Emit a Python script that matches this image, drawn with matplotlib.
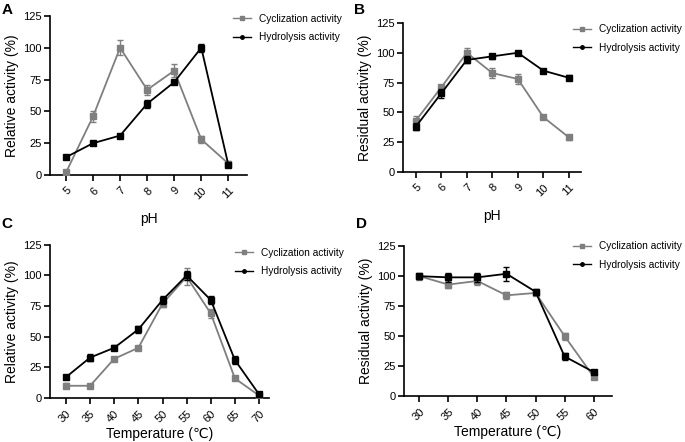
import numpy as np
import matplotlib
matplotlib.use('Agg')
import matplotlib.pyplot as plt
from matplotlib.lines import Line2D

plt.rcParams['font.family'] = ['Liberation Sans', 'DejaVu Sans']

# Panel A: pH optimum
ph = [5, 6, 7, 8, 9, 10, 11]
a_cyc = [2, 46, 100, 67, 82, 28, 9]
a_cyc_err = [2, 4, 6, 4, 5, 3, 2]
a_hyd = [14, 25, 31, 56, 73, 100, 8]
a_hyd_err = [1, 1, 1, 3, 1, 3, 1]

# Panel B: pH stability
b_cyc = [43, 71, 100, 83, 78, 46, 29]
b_cyc_err = [4, 2, 4, 4, 4, 1, 2]
b_hyd = [38, 66, 94, 97, 100, 85, 79]
b_hyd_err = [3, 4, 3, 2, 1, 1, 2]

# Panel C: temperature optimum
temp_c = [30, 35, 40, 45, 50, 55, 60, 65, 70]
c_cyc = [10, 10, 32, 41, 77, 99, 69, 16, 2]
c_cyc_err = [2, 1, 1, 1, 3, 7, 4, 1, 1]
c_hyd = [17, 33, 41, 56, 80, 100, 80, 31, 3]
c_hyd_err = [1, 3, 2, 3, 3, 4, 3, 3, 1]

# Panel D: temperature stability
temp_d = [30, 35, 40, 45, 50, 55, 60]
d_cyc = [100, 93, 96, 84, 86, 50, 16]
d_cyc_err = [3, 3, 3, 3, 2, 3, 2]
d_hyd = [100, 99, 99, 102, 87, 33, 20]
d_hyd_err = [2, 4, 4, 6, 2, 3, 1]

GRAY = '#7f7f7f'
labels = ['Cyclization activity', 'Hydrolysis activity']

fig = plt.figure(figsize=(6.85, 4.42), dpi=100)

panels = [
    # letter, rect, x, cyc, cyc_err, hyd, hyd_err, xlim, xlabel, ylabel, legend anchor, letter y
    ('A', [0.073, 0.604, 0.288, 0.360], ph, a_cyc, a_cyc_err, a_hyd, a_hyd_err,
     (4.41, 11.70), 'pH', 'Relative activity (%)', (0.340, 0.969), 0.993),
    ('B', [0.588, 0.611, 0.260, 0.337], ph, b_cyc, b_cyc_err, b_hyd, b_hyd_err,
     (4.49, 11.47), 'pH', 'Residual activity (%)', (0.836, 0.945), 0.993),
    ('C', [0.073, 0.0995, 0.320, 0.3465], temp_c, c_cyc, c_cyc_err, c_hyd, c_hyd_err,
     (26.7, 72.1), 'Temperature (℃)', 'Relative activity (%)', (0.343, 0.440), 0.508),
    ('D', [0.590, 0.104, 0.303, 0.339], temp_d, d_cyc, d_cyc_err, d_hyd, d_hyd_err,
     (27.4, 63.1), 'Temperature (℃)', 'Residual activity (%)', (0.836, 0.454), 0.508),
]

for letter, rect, x, cyc, cyc_e, hyd, hyd_e, xlim, xl, yl, lg, ly in panels:
    ax = fig.add_axes(rect)
    ax.errorbar(x, cyc, yerr=cyc_e, color=GRAY, marker='s', ms=4, lw=1.3,
                capsize=2.5, elinewidth=1.0, capthick=1.0, zorder=3)
    ax.errorbar(x, hyd, yerr=hyd_e, color='black', marker='s', ms=4, lw=1.3,
                capsize=2.5, elinewidth=1.0, capthick=1.0, zorder=4)
    ax.set_xlim(*xlim)
    ax.set_ylim(0, 125)
    ax.set_yticks([0, 25, 50, 75, 100, 125])
    ax.set_xticks(x)
    ax.set_xticklabels([str(v) for v in x], rotation=45, ha='right', rotation_mode='anchor')
    for s in ['top', 'right']:
        ax.spines[s].set_visible(False)
    for s in ['left', 'bottom']:
        ax.spines[s].set_linewidth(1.2)
    ax.tick_params(direction='out', length=4, width=1.2, labelsize=8, pad=2)
    ax.tick_params(axis='x', pad=3.5)
    ax.set_xlabel(xl, fontsize=10, labelpad=8 if xl == 'pH' else 2)
    ax.set_ylabel(yl, fontsize=10, labelpad=3)
    hl = [Line2D([], [], color=GRAY, marker='s', ms=2.5, lw=1.0),
          Line2D([], [], color='black', marker='o', ms=2.5, lw=1.0)]
    fig.legend(hl, labels, loc='upper left', bbox_to_anchor=lg, frameon=False,
               fontsize=7.3, handlelength=1.8, handletextpad=0.8, labelspacing=0.85,
               borderpad=0, borderaxespad=0)
    fig.text(rect[0] - 0.071, ly, letter, fontsize=11, fontweight='bold', va='top')

fig.savefig('out.png', dpi=100)
